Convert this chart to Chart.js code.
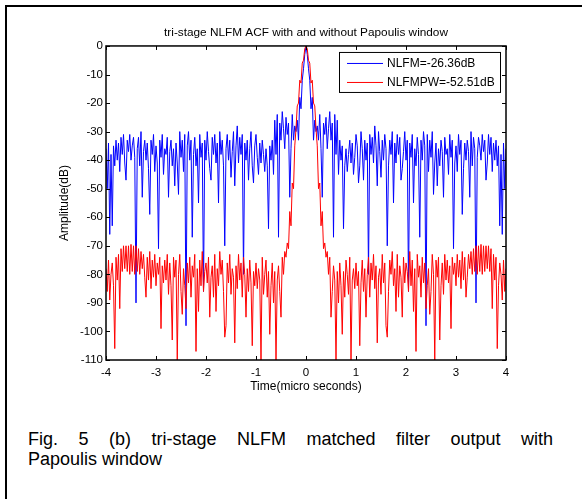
<!DOCTYPE html>
<html><head><meta charset="utf-8">
<script src="https://cdn.jsdelivr.net/npm/chart.js@4.4.0/dist/chart.umd.min.js"></script>
<style>
html,body{margin:0;padding:0;background:#fff;}
body{width:582px;height:499px;position:relative;overflow:hidden;font-family:"Liberation Sans",Arial,sans-serif;}
#frame{position:absolute;left:5px;top:5px;width:600px;height:600px;border-left:2px solid #000;border-top:2px solid #000;}
#wrap{position:absolute;left:0;top:0;width:582px;height:400px;}
.cap{position:absolute;left:28px;width:525px;font-size:18px;line-height:20px;color:#000;white-space:nowrap;}
#cap1{top:429px;text-align:justify;text-align-last:justify;white-space:normal;}
#cap2{top:449px;}
</style></head><body>
<div id="frame"></div>
<div id="wrap"><canvas id="c" width="582" height="400"></canvas></div>
<div class="cap" id="cap1">Fig. 5 (b) tri-stage NLFM matched filter output with</div>
<div class="cap" id="cap2">Papoulis window</div>
<script>
const FONT = '"Liberation Sans", Arial, Helvetica, sans-serif';
const T_START = -4;
const T_STEP = 0.025;
const xTicks = [-4, -3, -2, -1, 0, 1, 2, 3, 4];
const yTicks = [0, -10, -20, -30, -40, -50, -60, -70, -80, -90, -100, -110];
const legendLabels = ['NLFM=-26.36dB', 'NLFMPW=-52.51dB'];

// NLFM ACF without window (dB), sampled every 0.025 us from -4 to 4
const nlfm = [
 -36, -50, -34, -66, -38, -63, -35, -42,
 -33, -40, -34, -44, -32, -38, -31, -41,
 -47, -33, -37, -31, -40, -35, -32, -39,
 -90, -36, -32, -42, -30, -53, -37, -33,
 -40, -34, -43, -59, -33, -38, -31, -44,
 -35, -41, -71, -33, -39, -31, -45, -36,
 -38, -32, -53, -37, -33, -42, -36, -49,
 -34, -41, -52, -30, -39, -33, -44, -31,
 -98, -35, -30, -40, -33, -67, -38, -32,
 -42, -36, -55, -31, -39, -34, -86, -33,
 -40, -30, -37, -43, -47, -32, -38, -31,
 -41, -34, -55, -30, -38, -33, -42, -70,
 -36, -31, -40, -33, -46, -37, -30, -49,
 -35, -28, -41, -32, -38, -31, -80, -34,
 -40, -33, -47, -36, -30, -42, -48, -35,
 -31, -39, -45, -34, -41, -33, -38, -44,
 -36, -42, -64, -35, -40, -33, -45, -26,
 -38, -24, -67, -27, -33, -23, -29, -36,
 -25, -31, -27, -53, -36, -24, -33, -28,
 -30, -26, -33, -18, -22, -12, -8, -3,
 0,
 -3, -8, -12, -22, -18, -33, -26, -30,
 -28, -33, -24, -36, -53, -27, -31, -25,
 -36, -29, -23, -33, -27, -67, -24, -38,
 -26, -45, -33, -40, -35, -64, -42, -36,
 -44, -38, -33, -41, -34, -45, -39, -31,
 -35, -48, -42, -30, -36, -47, -33, -40,
 -34, -80, -31, -38, -32, -41, -28, -35,
 -49, -30, -37, -46, -33, -40, -31, -36,
 -70, -42, -33, -38, -30, -55, -34, -41,
 -31, -38, -32, -47, -43, -37, -30, -40,
 -33, -86, -34, -39, -31, -55, -36, -42,
 -32, -38, -67, -33, -40, -30, -35, -98,
 -31, -44, -33, -39, -30, -52, -41, -34,
 -49, -36, -42, -33, -37, -53, -32, -38,
 -36, -45, -31, -39, -33, -71, -41, -35,
 -44, -31, -38, -33, -59, -43, -34, -40,
 -33, -37, -53, -30, -42, -32, -36, -90,
 -39, -32, -35, -40, -31, -37, -33, -47,
 -41, -31, -38, -32, -44, -34, -40, -33,
 -42, -35, -63, -38, -66, -34, -50, -36
];

// NLFM ACF with Papoulis window (dB)
const nlfmpw = [
 -78, -86, -75, -89, -80, -76, -84, -106,
 -74, -82, -73, -92, -71, -79, -70, -78,
 -70, -79, -70, -80, -69.5, -79, -70, -80,
 -70, -79, -71, -80, -72, -78, -73, -81,
 -88, -74, -82, -72, -85, -75, -81, -73,
 -84, -76, -80, -74, -99, -77, -83, -75,
 -82, -73, -87, -76, -84, -103, -74, -81,
 -75, -110, -80, -73, -86, -94, -78, -84,
 -92, -76, -83, -74, -88, -77, -81, -73,
 -107, -78, -93, -75, -84, -72, -86, -79,
 -76, -83, -74, -95, -81, -77, -88, -73,
 -93, -78, -84, -72, -80, -75, -86, -102,
 -98, -76, -83, -73, -87, -78, -81, -104,
 -77, -85, -73, -82, -76, -88, -74, -80,
 -95, -78, -86, -75, -83, -105, -79, -84,
 -76, -85, -78, -82, -110, -74, -87, -80,
 -75, -88, -79, -101, -84, -76, -90, -79,
 -110, -82, -77, -86, -95, -74, -80, -72,
 -74, -69, -71, -58, -63, -48, -50, -35,
 -29, -21, -20, -12, -13, -6, -5, -1,
 0,
 -1, -5, -6, -13, -12, -20, -21, -29,
 -35, -50, -48, -63, -58, -71, -69, -74,
 -72, -80, -74, -95, -86, -77, -82, -110,
 -79, -90, -76, -84, -101, -79, -88, -75,
 -80, -87, -74, -110, -82, -78, -85, -76,
 -84, -79, -105, -83, -75, -86, -78, -95,
 -80, -74, -88, -76, -82, -73, -85, -77,
 -104, -81, -78, -87, -73, -83, -76, -98,
 -102, -86, -75, -80, -72, -84, -78, -93,
 -73, -88, -77, -81, -95, -74, -83, -76,
 -79, -86, -72, -84, -75, -93, -78, -107,
 -73, -81, -77, -88, -74, -83, -76, -92,
 -84, -78, -94, -86, -73, -80, -110, -75,
 -81, -74, -103, -84, -76, -87, -73, -82,
 -75, -83, -77, -99, -74, -80, -76, -84,
 -73, -81, -75, -85, -72, -82, -74, -88,
 -81, -73, -78, -72, -80, -71, -79, -70,
 -80, -70, -79, -69.5, -80, -70, -79, -70,
 -78, -70, -79, -71, -92, -73, -82, -74,
 -106, -84, -76, -80, -89, -75, -86, -78
];

const toPoints = arr => arr.map((v, i) => ({ x: +(T_START + i * T_STEP).toFixed(3), y: v }));

const framePlugin = {
  id: 'matlabFrame',
  afterDatasetsDraw(chart) {
    const { ctx, chartArea: a, scales: { x, y } } = chart;
    ctx.save();
    ctx.strokeStyle = '#000';
    ctx.lineWidth = 1.5;
    ctx.strokeRect(a.left, a.top, a.right - a.left, a.bottom - a.top);
    ctx.lineWidth = 1;
    ctx.beginPath();
    xTicks.forEach(v => {
      const px = Math.round(x.getPixelForValue(v)) + 0.5;
      ctx.moveTo(px, a.bottom); ctx.lineTo(px, a.bottom - 4);
      ctx.moveTo(px, a.top); ctx.lineTo(px, a.top + 4);
    });
    yTicks.forEach(v => {
      const py = Math.round(y.getPixelForValue(v)) + 0.5;
      ctx.moveTo(a.left, py); ctx.lineTo(a.left + 4, py);
      ctx.moveTo(a.right, py); ctx.lineTo(a.right - 4, py);
    });
    ctx.stroke();
    // legend box
    const bw = 161, bh = 40;
    const bx = a.right - 6 - bw, by = a.top + 6;
    ctx.fillStyle = '#fff';
    ctx.fillRect(bx, by, bw, bh);
    ctx.lineWidth = 1;
    ctx.strokeStyle = '#000';
    ctx.strokeRect(bx + 0.5, by + 0.5, bw, bh);
    ctx.font = '12px ' + FONT;
    ctx.textBaseline = 'middle';
    ctx.textAlign = 'left';
    chart.data.datasets.forEach((ds, i) => {
      const ly = by + 11.5 + i * 19;
      ctx.strokeStyle = ds.borderColor;
      ctx.beginPath();
      ctx.moveTo(bx + 8, ly); ctx.lineTo(bx + 44, ly);
      ctx.stroke();
      ctx.fillStyle = '#000';
      ctx.fillText(ds.label, bx + 48, ly + 0.5);
    });
    ctx.restore();
  }
};

new Chart(document.getElementById('c'), {
  type: 'line',
  data: {
    datasets: [
      { label: legendLabels[0], data: toPoints(nlfm), borderColor: '#0000ff', borderWidth: 1, pointRadius: 0, tension: 0, order: 2 },
      { label: legendLabels[1], data: toPoints(nlfmpw), borderColor: '#ff0000', borderWidth: 1, pointRadius: 0, tension: 0, order: 1 }
    ]
  },
  options: {
    responsive: false,
    animation: false,
    devicePixelRatio: 1,
    layout: { padding: { left: 0, right: 76, top: 0, bottom: 0 } },
    plugins: {
      legend: { display: false },
      tooltip: { enabled: false },
      title: {
        display: true, fullSize: false,
        text: 'tri-stage NLFM ACF with and without Papoulis window',
        color: '#000',
        font: { family: FONT, size: 11.8, weight: 'normal' },
        padding: { top: 25.9, bottom: 5.9 }
      }
    },
    scales: {
      x: {
        type: 'linear', min: -4, max: 4,
        grid: { display: false, drawTicks: false },
        border: { display: false },
        ticks: { stepSize: 1, color: '#000', font: { family: FONT, size: 11.5 }, padding: 5.6, maxRotation: 0, autoSkip: false },
        title: { display: true, text: 'Time(micro seconds)', color: '#000', font: { family: FONT, size: 12 }, padding: { top: 0, bottom: 6 } },
        afterFit(s) { s.height = 40; }
      },
      y: {
        type: 'linear', min: -110, max: 0,
        grid: { display: false, drawTicks: false },
        border: { display: false },
        ticks: { stepSize: 10, color: '#000', font: { family: FONT, size: 11.5 }, padding: 3, autoSkip: false },
        title: { display: true, text: 'Amplitude(dB)', color: '#000', font: { family: FONT, size: 12 }, padding: { top: 57, bottom: 0 } },
        afterFit(s) { s.width = 106; }
      }
    }
  },
  plugins: [framePlugin]
});
</script>
</body></html>
